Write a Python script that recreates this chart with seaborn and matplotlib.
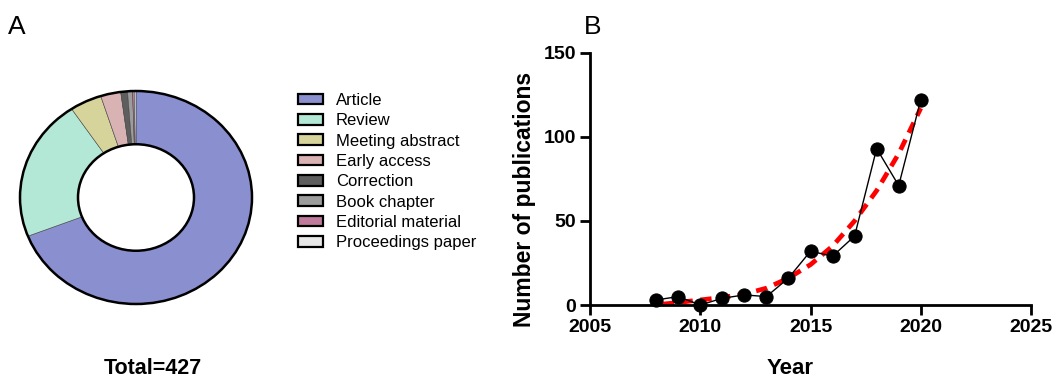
import numpy as np
import pandas as pd
import matplotlib
matplotlib.use("Agg")
import matplotlib.pyplot as plt
from matplotlib.patches import Patch, Ellipse
import seaborn as sns

# ---- data ----
doc_types = ["Article", "Review", "Meeting abstract", "Early access", "Correction",
             "Book chapter", "Editorial material", "Proceedings paper"]
doc_counts = [295, 92, 19, 12, 4, 3, 1, 1]
doc_colors = ["#8a90cf", "#b3e8d6", "#d6d49b", "#d9b2b4", "#5e5e5e",
              "#9c9c9c", "#c07a9c", "#e8e8e8"]

years = [2008, 2009, 2010, 2011, 2012, 2013, 2014, 2015, 2016, 2017, 2018, 2019, 2020]
pubs = [3, 5, 0, 4, 6, 5, 16, 32, 29, 41, 93, 71, 122]
fit_years = [2008.3, 2009, 2010, 2011, 2012, 2013, 2014, 2015, 2016, 2017, 2018, 2019, 2020]
fit_values = [0.5, 1.5, 3, 4.5, 6.5, 10, 16, 24, 35, 50, 68, 90, 117]

sns.set_theme(style="ticks")
plt.rcParams["font.family"] = ["Liberation Sans", "DejaVu Sans"]
plt.rcParams["text.color"] = "black"
plt.rcParams["axes.labelcolor"] = "black"

W, H = 1059, 380
fig = plt.figure(figsize=(W / 100, H / 100), dpi=100)

def fx(px):
    return px / W

def fy(py):
    return 1 - py / H

# ---- Panel A: donut ----
cx, cy, rx, ry = 136, 197.5, 116, 106.5
axA = fig.add_axes([fx(cx - rx), fy(cy + ry), 2 * rx / W, 2 * ry / H])
wedges, _ = axA.pie(doc_counts, colors=doc_colors, startangle=90, counterclock=False,
                    radius=1.0, wedgeprops=dict(width=0.5, linewidth=0.4, edgecolor="#444444"))
axA.set_aspect("auto")
axA.set_xlim(-1, 1)
axA.set_ylim(-1, 1)
axA.add_patch(Ellipse((0, 0), 2, 2, fill=False, edgecolor="black", linewidth=1.8, clip_on=False))
axA.add_patch(Ellipse((0, 0), 1.0, 1.0, fill=False, edgecolor="black", linewidth=1.8, clip_on=False))

handles = [Patch(facecolor=c, edgecolor="black", linewidth=1.6) for c in doc_colors]
fig.legend(handles, doc_types, loc="upper left", bbox_to_anchor=(fx(298), fy(93)),
           frameon=False, fontsize=12, labelspacing=0.32, handlelength=1.5,
           handleheight=0.6, handletextpad=0.78, borderpad=0, borderaxespad=0)

fig.text(fx(8), fy(27), "A", fontsize=19, ha="left", va="center")
fig.text(fx(153), fy(369), "Total=427", fontsize=15.5, fontweight="bold", ha="center", va="center")

# ---- Panel B: line ----
axB = fig.add_axes([fx(590), fy(305), (1031 - 590) / W, (305 - 52.7) / H])
df = pd.DataFrame({"Year": years, "Publications": pubs})
dfit = pd.DataFrame({"Year": fit_years, "Fit": fit_values})
sns.lineplot(data=dfit, x="Year", y="Fit", ax=axB, color="red", linewidth=3.4,
             linestyle=(0, (2.4, 1.6)), zorder=2)
sns.lineplot(data=df, x="Year", y="Publications", ax=axB, color="black", linewidth=1.0,
             marker="o", markersize=9.5, markeredgecolor="black", zorder=3)
for l in axB.lines:
    l.set_clip_on(False)
axB.set_xlim(2005, 2025)
axB.set_ylim(0, 150)
axB.set_xticks([2005, 2010, 2015, 2020, 2025])
axB.set_yticks([0, 50, 100, 150])
axB.set_xlabel("Year", fontsize=16, fontweight="bold")
axB.set_ylabel("Number of publications", fontsize=16.5, fontweight="bold")
axB.xaxis.set_label_coords((790 - 590) / 441, (305 - 368) / 252.3)
axB.yaxis.set_label_coords((524 - 590) / 441, (305 - 199) / 252.3)
axB.xaxis.label.set_va("center")
axB.yaxis.label.set_va("center")
for lab in axB.get_xticklabels() + axB.get_yticklabels():
    lab.set_fontweight("bold")
    lab.set_fontsize(14)
axB.tick_params(axis="both", width=2, length=7, color="black", labelcolor="black", pad=3)
for s in ["left", "bottom"]:
    axB.spines[s].set_linewidth(2)
    axB.spines[s].set_color("black")
sns.despine(ax=axB)
axB.grid(False)
fig.text(fx(584), fy(27), "B", fontsize=19, ha="left", va="center")

fig.savefig("out.png", dpi=100, facecolor="white")
